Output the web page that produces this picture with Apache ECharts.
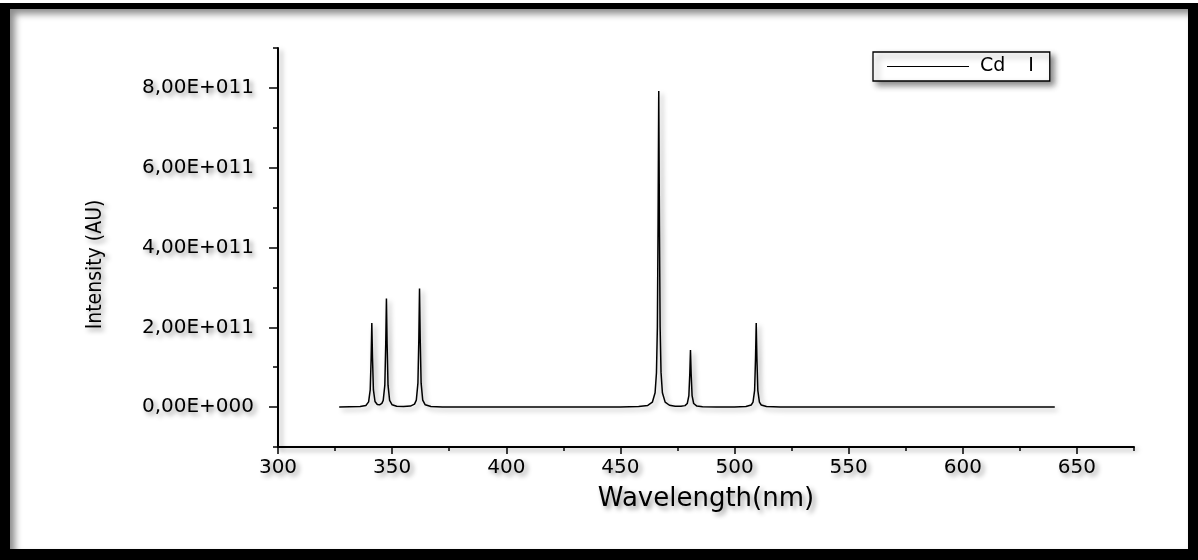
<!DOCTYPE html>
<html>
<head>
<meta charset="utf-8">
<title>Cd I spectrum</title>
<script src="https://cdn.jsdelivr.net/npm/echarts@6.0.0/dist/echarts.min.js"></script>
<style>
	html, body { margin: 0; padding: 0; background: #e4e4e4; overflow: hidden; }
	#main { position: absolute; left: 0; top: 0; width: 1198px; height: 560px; background: #fff; }
	#frame {
		position: absolute; left: 0; top: 3px; width: 1198px; height: 557px;
		box-sizing: border-box; pointer-events: none;
		border-style: solid; border-color: #000;
		border-width: 6px 10px 11px 10px;
		box-shadow: inset 5px 5px 7px rgba(0, 0, 0, 0.45);
	}
</style>
</head>
<body>
<div id="main"></div>
<div id="frame"></div>
<script>
// spectrum (wavelength in nm, intensity in units of 1e11)
const wavelength = [
	326.8, 336, 338.5, 339.7, 340.4, 340.8, 341.1, 341.4, 341.8, 342.5,
	343.5, 344.5, 345.5, 346.1, 346.8, 347.2, 347.5, 347.8, 348.2, 348.9,
	350, 352, 355, 358, 359.8, 360.6, 361.3, 361.7, 362.0, 362.3,
	362.7, 363.4, 364.5, 367, 372, 390, 430, 450, 458, 462,
	464, 465.2, 465.8, 466.2, 466.5, 466.8, 467.1, 467.4, 467.8, 468.4,
	469.6, 471.5, 474, 476.5, 478.3, 479.3, 480.0, 480.4, 480.7, 481.0,
	481.4, 482.1, 483.5, 486, 492, 500, 505, 507.3, 508.1, 508.8,
	509.2, 509.5, 509.8, 510.2, 510.9, 511.7, 514, 520, 540, 640.3
];
const intensity = [
	0, 0.013, 0.042, 0.13, 0.43, 1.22, 2.11, 1.23, 0.43, 0.14,
	0.065, 0.058, 0.094, 0.17, 0.55, 1.58, 2.72, 1.58, 0.55, 0.17,
	0.058, 0.022, 0.013, 0.026, 0.075, 0.175, 0.60, 1.71, 2.97, 1.71,
	0.60, 0.175, 0.057, 0.015, 0.004, 0.001, 0.001, 0.003, 0.013, 0.042,
	0.122, 0.36, 0.86, 2.01, 4.56, 7.92, 4.56, 2.01, 0.87, 0.36,
	0.124, 0.046, 0.023, 0.020, 0.037, 0.09, 0.29, 0.83, 1.43, 0.83,
	0.29, 0.09, 0.025, 0.009, 0.004, 0.004, 0.014, 0.052, 0.124, 0.42,
	1.22, 2.11, 1.22, 0.42, 0.124, 0.052, 0.013, 0.002, 0, 0
];
const UNIT = 1e11;

// axis ticks
const xMajor = [300, 350, 400, 450, 500, 550, 600, 650];
const xMinor = [325, 375, 425, 475, 525, 575, 625, 675];
const yMajor = [0, 2e11, 4e11, 6e11, 8e11];
const yMinor = [-1e11, 1e11, 3e11, 5e11, 7e11, 9e11];
const yLabels = ['0,00E+000', '2,00E+011', '4,00E+011', '6,00E+011', '8,00E+011'];

const seriesData = wavelength.map((w, i) => [w, intensity[i] * UNIT]);

const shadowText = {
	textShadowColor: 'rgba(0,0,0,0.45)',
	textShadowBlur: 5,
	textShadowOffsetX: 3,
	textShadowOffsetY: 3
};
const shadowLine = {
	shadowColor: 'rgba(0,0,0,0.35)',
	shadowBlur: 5,
	shadowOffsetX: 3,
	shadowOffsetY: 3
};

const myChart = echarts.init(document.getElementById('main'));

const option = {
	animation: false,
	backgroundColor: '#fff',
	grid: { left: 278, right: 64, top: 48, bottom: 113 },
	legend: {
		left: 873,
		top: 52,
		padding: [5, 16, 5, 14],
		itemWidth: 82,
		itemHeight: 1.2,
		icon: 'rect',
		backgroundColor: '#fff',
		borderColor: '#000',
		borderWidth: 1.3,
		shadowColor: 'rgba(0,0,0,0.45)',
		shadowBlur: 6,
		shadowOffsetX: 4,
		shadowOffsetY: 4,
		formatter: () => ' Cd\u2002\u2002\u2009I',
		textStyle: { fontFamily: 'DejaVu Sans', fontSize: 19, color: '#000' },
		itemStyle: { color: '#000' }
	},
	xAxis: [
		{
			type: 'value',
			min: 300,
			max: 675,
			name: 'Wavelength(nm)',
			nameLocation: 'middle',
			nameGap: 39,
			nameTextStyle: { fontFamily: 'DejaVu Sans', fontSize: 26, color: '#000', ...shadowText },
			splitLine: { show: false },
			axisLine: { show: true, onZero: false, lineStyle: { color: '#000', width: 2, ...shadowLine } },
			axisTick: { show: true, customValues: xMajor, length: 7, lineStyle: { color: '#000', width: 1.5 } },
			axisLabel: {
				customValues: xMajor,
				margin: 11,
				fontFamily: 'DejaVu Sans',
				fontSize: 20,
				color: '#000',
				...shadowText
			}
		},
		{
			type: 'value',
			min: 300,
			max: 675,
			position: 'bottom',
			splitLine: { show: false },
			axisLine: { show: false, onZero: false },
			axisTick: { show: true, customValues: xMinor, length: 4, lineStyle: { color: '#000', width: 1.5 } },
			axisLabel: { show: false }
		}
	],
	yAxis: [
		{
			type: 'value',
			min: -1e11,
			max: 9e11,
			name: 'Intensity (AU)',
			nameLocation: 'middle',
			nameGap: 172,
			nameTextStyle: {
				fontFamily: 'DejaVu Sans Condensed, sans-serif',
				fontSize: 21,
				color: '#000',
				padding: [0, 34, 0, 0],
				...shadowText
			},
			splitLine: { show: false },
			axisLine: { show: true, onZero: false, lineStyle: { color: '#000', width: 2, ...shadowLine } },
			axisTick: { show: true, customValues: yMajor, length: 9, lineStyle: { color: '#000', width: 1.5 } },
			axisLabel: {
				customValues: yMajor,
				margin: 24,
				fontFamily: 'DejaVu Sans',
				fontSize: 20,
				color: '#000',
				formatter: (v) => yLabels[yMajor.indexOf(v)] || '',
				...shadowText
			}
		},
		{
			type: 'value',
			min: -1e11,
			max: 9e11,
			position: 'left',
			splitLine: { show: false },
			axisLine: { show: false, onZero: false },
			axisTick: { show: true, customValues: yMinor, length: 5, lineStyle: { color: '#000', width: 1.5 } },
			axisLabel: { show: false }
		}
	],
	series: [
		{
			name: 'Cd I',
			type: 'line',
			xAxisIndex: 0,
			yAxisIndex: 0,
			symbol: 'none',
			data: seriesData,
			lineStyle: { color: '#000', width: 1.5, ...shadowLine },
			itemStyle: { color: '#000' }
		}
	]
};

myChart.setOption(option);
</script>
</body>
</html>
